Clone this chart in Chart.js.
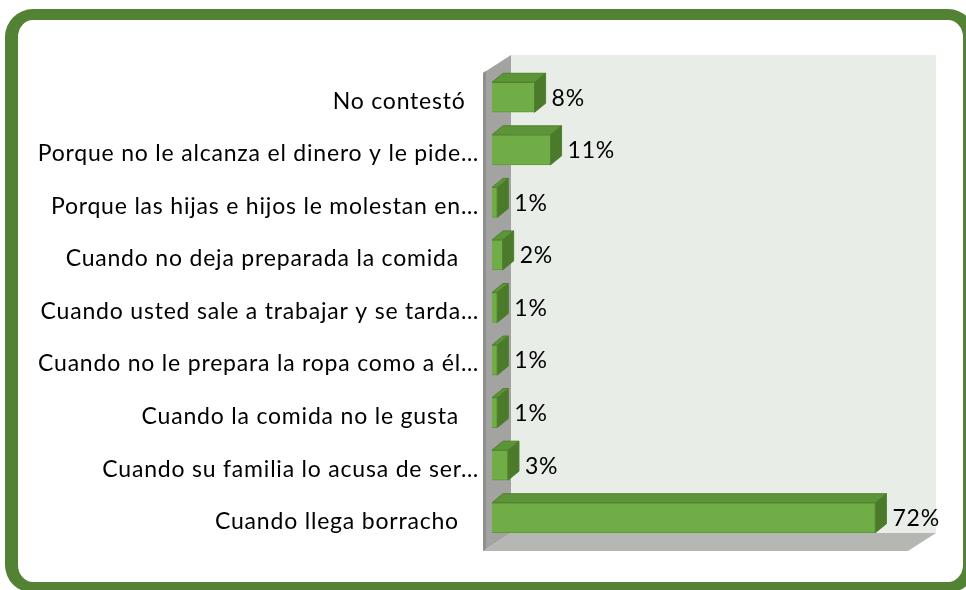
<!DOCTYPE html>
<html>
<head>
<meta charset="utf-8">
<script src="https://cdn.jsdelivr.net/npm/chart.js@4/dist/chart.umd.min.js"></script>
<style>
  html, body { margin:0; padding:0; width:966px; height:590px; overflow:hidden; background:#fff; }
  #frame { position:absolute; left:5px; top:9px; width:945px; height:562px; border-style:solid; border-color:#548235;
           border-width:11px 13px 11px 13px; border-radius:28px; }
  #wrap { position:absolute; left:0; top:0; width:966px; height:590px; }
</style>
</head>
<body>
<div id="frame"></div>
<div id="wrap"><canvas id="c" width="966" height="590"></canvas></div>
<script>
const categories = [
  "No contestó  ",
  "Porque no le alcanza el dinero y le pide…",
  "Porque las hijas e hijos le molestan en…",
  "Cuando no deja preparada la comida   ",
  "Cuando usted sale a trabajar y se tarda…",
  "Cuando no le prepara la ropa como a él…",
  "Cuando la comida no le gusta   ",
  "Cuando su familia lo acusa de ser…",
  "Cuando llega borracho   "
];
const values = [8, 11, 1, 2, 1, 1, 1, 3, 72];
const valueLabels = ["8%", "11%", "1%", "2%", "1%", "1%", "1%", "3%", "72%"];

const FONT = "Lato, 'Open Sans', sans-serif";
const DX = 11, DY = 9; // bar depth

const walls = {
  id: 'walls',
  beforeDraw(chart) {
    chart.ctx.letterSpacing = '0.8px';
  },
  beforeDatasetsDraw(chart) {
    const ctx = chart.ctx, a = chart.chartArea;
    const FL = a.left - 9, FR = a.right - 10, FB = a.bottom + 7;
    const WX = 28, WY = 18;
    const top = a.top - 16;
    ctx.save();
    ctx.fillStyle = '#E8EEE7';
    ctx.fillRect(FL + WX, top, FR - FL, FB - WY - top);
    ctx.fillStyle = '#B4B7B2';
    ctx.beginPath();
    ctx.moveTo(FL, FB); ctx.lineTo(FL + WX, FB - WY); ctx.lineTo(FR + WX, FB - WY); ctx.lineTo(FR, FB);
    ctx.closePath(); ctx.fill();
    ctx.fillStyle = '#A3A4A2';
    ctx.beginPath();
    ctx.moveTo(FL, top + WY); ctx.lineTo(FL + WX, top); ctx.lineTo(FL + WX, FB - WY); ctx.lineTo(FL, FB);
    ctx.closePath(); ctx.fill();
    ctx.fillStyle = '#8E908D';
    ctx.beginPath();
    ctx.moveTo(FL, top + WY); ctx.lineTo(FL + 3, top + WY - 2); ctx.lineTo(FL + 3, FB - 2); ctx.lineTo(FL, FB);
    ctx.closePath(); ctx.fill();
    ctx.restore();
  },
  afterDatasetsDraw(chart) {
    const ctx = chart.ctx;
    const meta = chart.getDatasetMeta(0);
    ctx.save();
    meta.data.forEach((bar, i) => {
      const x0 = bar.base, x1 = bar.x;
      const yT = bar.y - bar.height / 2, yB = bar.y + bar.height / 2;
      ctx.fillStyle = '#5E9438';
      ctx.strokeStyle = '#4F7F2E';
      ctx.lineWidth = 1;
      ctx.beginPath();
      ctx.moveTo(x0, yT); ctx.lineTo(x0 + DX, yT - DY); ctx.lineTo(x1 + DX, yT - DY); ctx.lineTo(x1, yT);
      ctx.closePath(); ctx.fill(); ctx.stroke();
      ctx.fillStyle = '#4C7A2B';
      ctx.beginPath();
      ctx.moveTo(x1, yT); ctx.lineTo(x1 + DX, yT - DY); ctx.lineTo(x1 + DX, yB - DY); ctx.lineTo(x1, yB);
      ctx.closePath(); ctx.fill(); ctx.stroke();
      ctx.fillStyle = '#000';
      ctx.font = '23px ' + FONT;
      ctx.textAlign = 'left';
      ctx.textBaseline = 'middle';
      ctx.fillText(valueLabels[i], x1 + DX + 6, bar.y + 1);
    });
    ctx.restore();
  }
};

new Chart(document.getElementById('c'), {
  type: 'bar',
  data: {
    labels: categories,
    datasets: [{
      data: values,
      backgroundColor: '#70AD47',
      borderColor: '#5E9A3A',
      borderWidth: 1,
      barThickness: 30
    }]
  },
  options: {
    indexAxis: 'y',
    responsive: false,
    animation: false,
    devicePixelRatio: 1,
    layout: { padding: { left: 0, right: 48, top: 71, bottom: 46 } },
    plugins: { legend: { display: false }, tooltip: { enabled: false } },
    scales: {
      x: { display: false, min: 0, max: 80 },
      y: {
        grid: { display: false, drawTicks: false },
        border: { display: false },
        afterFit(s) { s.width = 492; },
        ticks: {
          autoSkip: false,
          padding: 13,
          labelOffset: 4,
          color: '#000',
          font: { family: FONT, size: 23 }
        }
      }
    }
  },
  plugins: [walls]
});
</script>
</body>
</html>
